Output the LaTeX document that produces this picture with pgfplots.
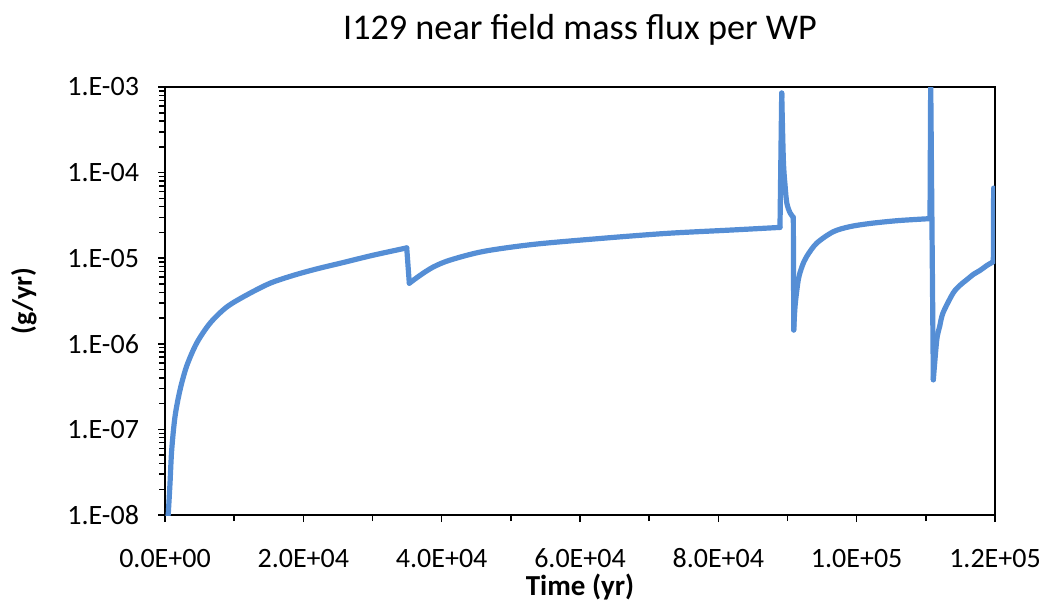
\documentclass[border=0pt]{standalone}
\usepackage{fontspec}
\setmainfont{Carlito}
\usepackage{pgfplots}
\pgfplotsset{compat=1.18}
\definecolor{ser}{RGB}{85,142,213}
\begin{document}
\begin{tikzpicture}[x=1bp,y=1bp]
\path[use as bounding box] (-82.5,-48) rectangle (438.5,257.5);
\begin{axis}[
  at={(0,0)}, anchor=south west,
  scale only axis, width=415bp, height=214bp,
  xmin=0, xmax=120000,
  ymode=log, ymin=1e-8, ymax=1e-3,
  scaled x ticks=false,
  xtick={0,20000,40000,60000,80000,100000,120000},
  xticklabels={0.0E+00,2.0E+04,4.0E+04,6.0E+04,8.0E+04,1.0E+05,1.2E+05},
  minor x tick num=1,
  ytick={1e-8,1e-7,1e-6,1e-5,1e-4,1e-3},
  yticklabels={1.E-08,1.E-07,1.E-06,1.E-05,1.E-04,1.E-03},
  tick align=outside,
  xtick pos=bottom, ytick pos=left,
  major tick length=3.5bp, minor tick length=3bp,
  every tick/.style={black, line width=0.75bp},
  axis line style={black, line width=0.75bp},
  ticklabel style={font=\fontsize{14bp}{16bp}\selectfont},
  xticklabel style={anchor=base, yshift=-22.5bp},
  yticklabel style={anchor=east, xshift=-6bp},
  every axis plot/.append style={color=ser, line width=2.6bp, line join=round, line cap=round},
]
% continuous sections drawn smooth, jumps drawn straight
\addplot[smooth] coordinates {
(430,1e-8) (477,1.05e-8) (723,2.34e-8) (969,5.75e-8) (1446,1.41e-7)
(2169,2.88e-7) (3137,5.5e-7) (4583,1.02e-6) (6506,1.74e-6) (8921,2.69e-6)
(11812,3.72e-6) (15181,5.1e-6) (18550,6.3e-6) (21933,7.5e-6) (26000,9.0e-6)
(30000,1.08e-5) (34946,1.32e-5)
};
\addplot[sharp plot] coordinates {(34946,1.32e-5) (35322,5.1e-6)};
\addplot[smooth] coordinates {
(35322,5.1e-6) (36868,6.3e-6) (38792,7.9e-6) (41205,9.5e-6) (46020,1.2e-5)
(53250,1.45e-5) (62892,1.7e-5) (72536,1.95e-5) (82165,2.14e-5) (88911,2.29e-5)
};
\addplot[sharp plot] coordinates {(88911,2.29e-5) (89160,8.5e-4)};
\addplot[smooth] coordinates {
(89160,8.5e-4) (89400,1.4e-4) (89650,7e-5) (89900,4.4e-5) (90360,3.4e-5) (90840,3.0e-5)
};
\addplot[sharp plot] coordinates {(90840,3.0e-5) (90900,1.45e-6)};
\addplot[smooth] coordinates {
(90900,1.45e-6) (91100,2.8e-6) (91560,5.6e-6) (92100,8.0e-6) (92780,1.05e-5)
(94220,1.5e-5) (96620,2.04e-5) (99040,2.34e-5) (102000,2.55e-5) (106000,2.75e-5)
(110600,2.9e-5)
};
\addplot[sharp plot] coordinates {(110600,2.9e-5) (110700,1.2e-3) (111080,3.8e-7)};
\addplot[smooth] coordinates {
(111080,3.8e-7) (111572,1.1e-6) (112000,1.6e-6) (112483,2.3e-6)
(113929,3.9e-6) (114900,4.8e-6) (115909,5.6e-6) (116900,6.5e-6) (117831,7.2e-6)
(118800,8.2e-6) (119755,9.1e-6)
};
\addplot[sharp plot] coordinates {(119755,9.1e-6) (119800,6.6e-5)};
\end{axis}
\node[anchor=base, font=\fontsize{18.1bp}{21bp}\selectfont] at (207.5,237.75) {I129 near field mass flux per WP};
\node[anchor=base, font=\fontsize{14.5bp}{17bp}\selectfont\bfseries] at (207.5,-40) {Time (yr)};
\node[anchor=base, rotate=90, font=\fontsize{14bp}{16bp}\selectfont\bfseries] at (-66.5,107) {(g/yr)};
\end{tikzpicture}
\end{document}
